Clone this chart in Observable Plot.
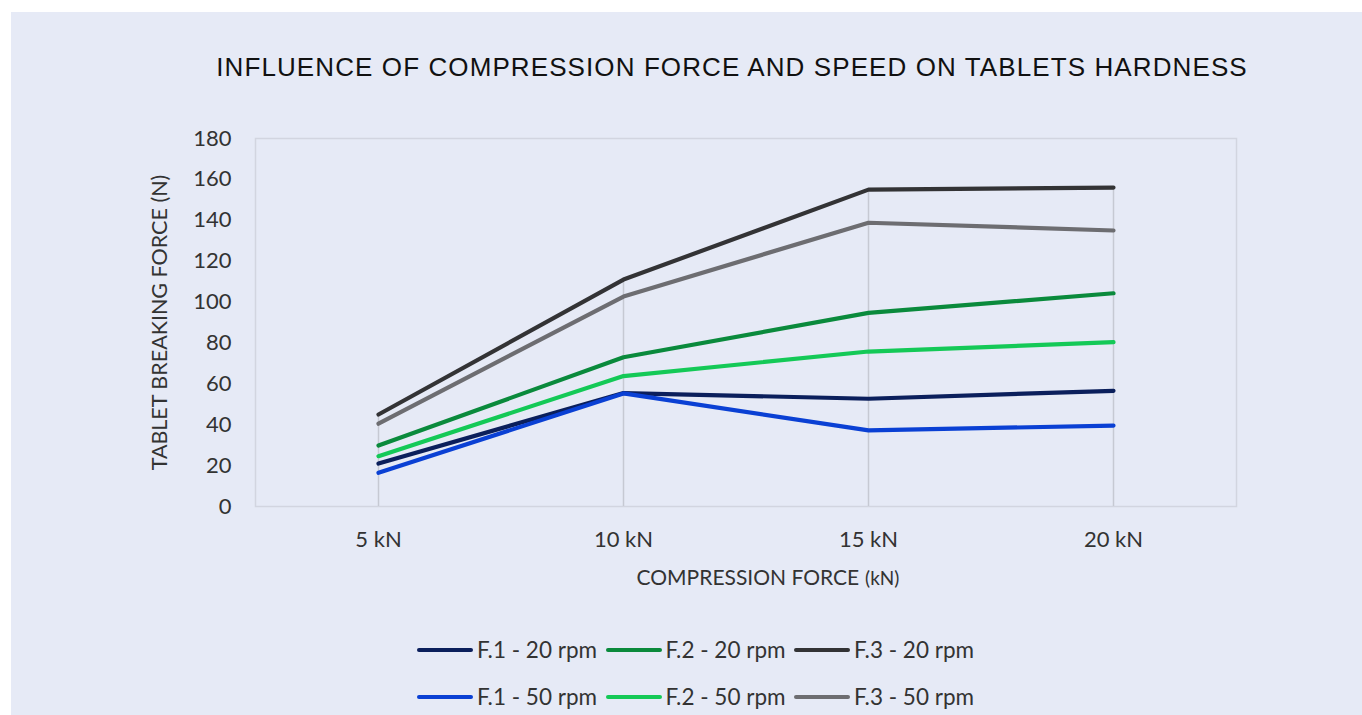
<!DOCTYPE html>
<html>
<head>
<meta charset="utf-8">
<script src="https://cdn.jsdelivr.net/npm/d3@7"></script>
<script src="https://cdn.jsdelivr.net/npm/@observablehq/plot@0.6"></script>
<style>
  html, body { margin: 0; padding: 0; background: #ffffff; }
  body { width: 1362px; height: 715px; position: relative; overflow: hidden; }
  #bg { position: absolute; left: 11px; top: 12px; right: 0; bottom: 0; background: #e6eaf6; }
  #title { position: absolute; left: 732px; top: 52px; transform: translateX(-50%); white-space: nowrap;
           font-family: "Liberation Sans", Arial, sans-serif; font-size: 26px; letter-spacing: 1.1px; color: #111; line-height: 30px; }
  #chart { position: absolute; left: 0; top: 0; }
  #xlabel { position: absolute; left: 768px; top: 562px; transform: translateX(-50%); white-space: nowrap;
            font-family: Lato, sans-serif; color: #333; line-height: 30px; }
  #xlabel .big { font-size: 21px; }
  #xlabel .small { font-size: 19px; margin-left: 6px; }
  .legrow { position: absolute; left: 417px; display: flex; align-items: center; white-space: nowrap;
            font-family: Lato, sans-serif; font-size: 22.5px; color: #333; }
  .legitem { display: flex; align-items: center; width: 188.5px; }
  .sw { width: 56px; height: 4px; border-radius: 2px; margin-right: 4px; }
</style>
</head>
<body>
<div id="bg"></div>
<div id="title"></div>
<div id="chart"></div>
<div id="xlabel"></div>
<div id="legend"></div>
<script>
// ---- data ----
const titleText = "INFLUENCE OF COMPRESSION FORCE AND SPEED ON TABLETS HARDNESS";
const xLabelMain = "COMPRESSION FORCE";
const xLabelUnit = "(kN)";
const yLabel = "TABLET BREAKING FORCE (N)";
const categories = ["5 kN", "10 kN", "15 kN", "20 kN"];
const yTicks = [0, 20, 40, 60, 80, 100, 120, 140, 160, 180];
const seriesNames = ["F.1 - 20 rpm", "F.2 - 20 rpm", "F.3 - 20 rpm", "F.1 - 50 rpm", "F.2 - 50 rpm", "F.3 - 50 rpm"];
const seriesColors = ["#0b1f5c", "#0a8a3c", "#333335", "#0a40d4", "#14c957", "#6d6d71"];
const f1_20 = [21.0, 55.5, 52.7, 56.6];
const f2_20 = [29.8, 73.0, 94.7, 104.3];
const f3_20 = [45.0, 111.0, 155.0, 156.0];
const f1_50 = [16.5, 55.3, 37.2, 39.6];
const f2_50 = [24.6, 63.8, 75.8, 80.4];
const f3_50 = [40.5, 102.7, 138.8, 135.0];
const seriesValues = [f1_20, f2_20, f3_20, f1_50, f2_50, f3_50];

// ---- build table ----
const rows = [];
seriesNames.forEach((s, i) => {
  seriesValues[i].forEach((v, j) => rows.push({series: s, cat: categories[j], value: v}));
});
const dropLines = categories.map((c, j) => ({cat: c, top: d3.max(seriesValues, a => a[j])}));

document.getElementById("title").textContent = titleText;
document.getElementById("xlabel").innerHTML =
  `<span class="big">${xLabelMain}</span><span class="small">${xLabelUnit}</span>`;

const W = 1362, H = 600;
const chart = Plot.plot({
  width: W,
  height: H,
  marginLeft: 255,
  marginRight: 126,
  marginTop: 138,
  marginBottom: 94,
  style: {background: "transparent", fontFamily: "Lato, sans-serif", color: "#333"},
  x: {type: "point", domain: categories, padding: 0.5, label: null},
  y: {domain: [0, 180], label: null},
  color: {domain: seriesNames, range: seriesColors},
  marks: [
    Plot.frame({stroke: "#d2d5e0", strokeWidth: 1.5}),
    Plot.ruleX(dropLines, {x: "cat", y1: 0, y2: "top", stroke: "#c6c9d3", strokeWidth: 1.5}),
    Plot.axisY(yTicks, {tickSize: 0, tickPadding: 24, fontSize: 22, fill: "#333", label: null}),
    Plot.axisX(categories, {tickSize: 0, tickPadding: 25, fontSize: 22, fill: "#333", label: null}),
    Plot.text([yLabel], {frameAnchor: "left", dx: -95, rotate: -90, textAnchor: "middle", fontSize: 21.5, fill: "#333"}),
    Plot.line(rows, {x: "cat", y: "value", z: "series", stroke: "series", strokeWidth: 4.2,
                     strokeLinejoin: "round", strokeLinecap: "round"})
  ]
});
document.getElementById("chart").appendChild(chart);

// ---- legend ----
const legend = document.getElementById("legend");
const rowTops = [636, 683];
[0, 1].forEach(r => {
  const row = document.createElement("div");
  row.className = "legrow";
  row.style.top = rowTops[r] + "px";
  for (let k = 0; k < 3; k++) {
    const i = r * 3 + k;
    const item = document.createElement("div");
    item.className = "legitem";
    const sw = document.createElement("div");
    sw.className = "sw";
    sw.style.background = seriesColors[i];
    const t = document.createElement("span");
    t.textContent = seriesNames[i];
    item.appendChild(sw); item.appendChild(t);
    row.appendChild(item);
  }
  legend.appendChild(row);
});
</script>
</body>
</html>
